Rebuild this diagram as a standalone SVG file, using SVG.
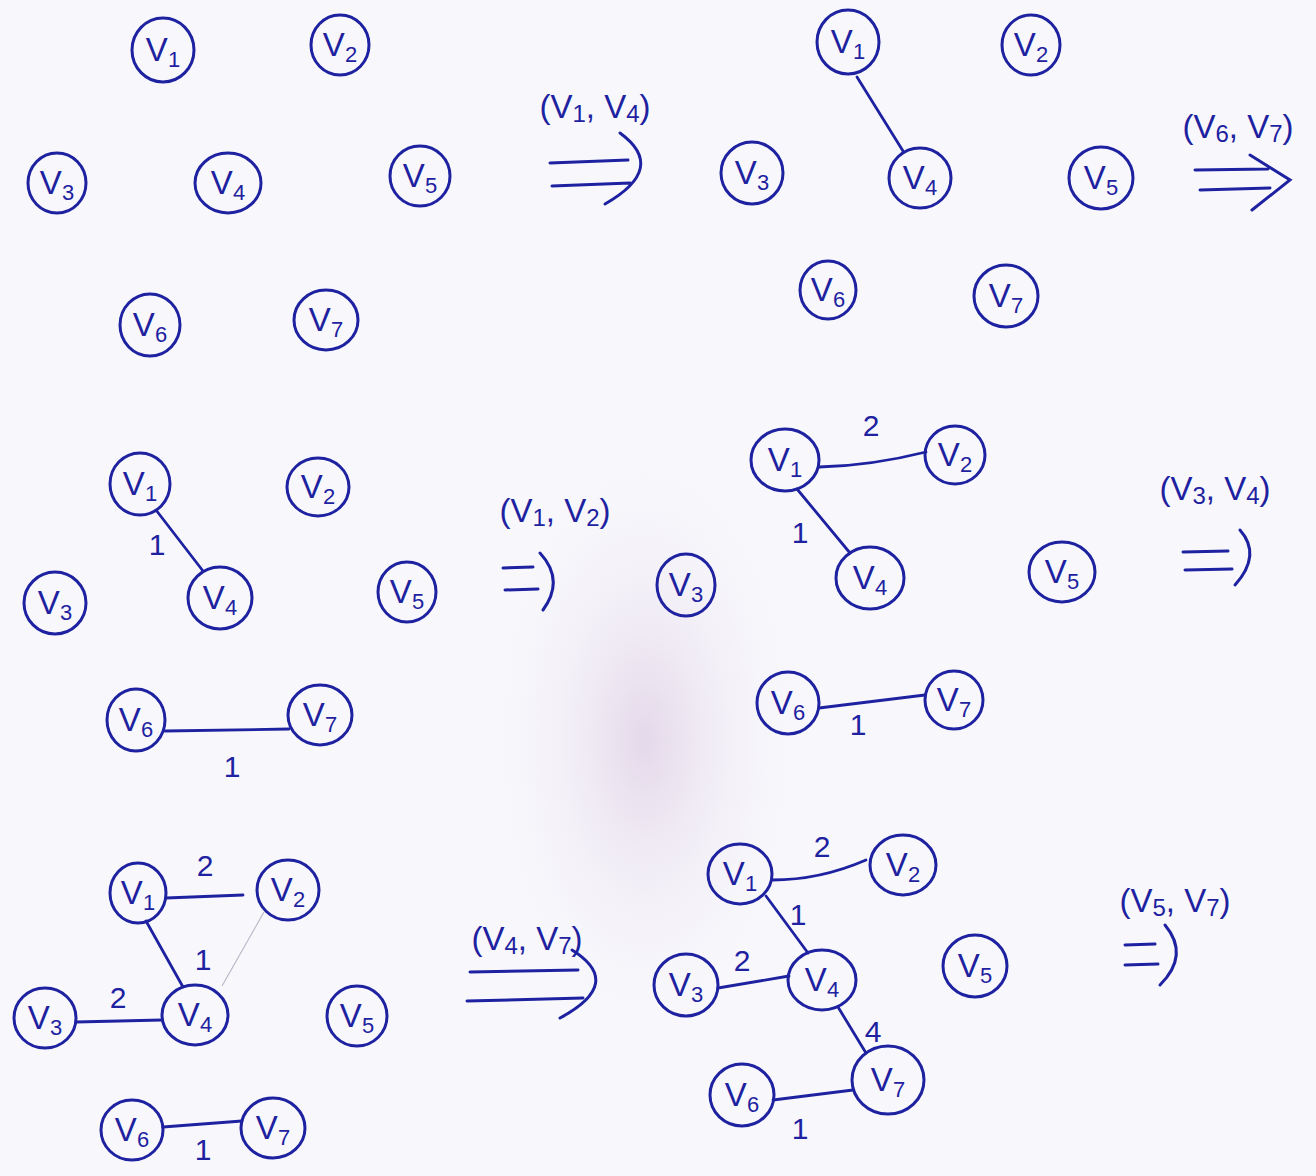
<svg xmlns="http://www.w3.org/2000/svg" width="1316" height="1176" viewBox="0 0 1316 1176">
<defs>
<radialGradient id="smudge" cx="0.5" cy="0.5" r="0.5">
<stop offset="0" stop-color="#e4d8ea"/>
<stop offset="1" stop-color="#f8f8fc" stop-opacity="0"/>
</radialGradient>
<style>
.n ellipse{fill:none;stroke:#1e22a0;stroke-width:3}
.n text,.lbl{font-family:"Liberation Sans","DejaVu Sans",sans-serif;fill:#1e22a0}
.n text{font-size:33px;text-anchor:middle}
.n tspan{font-size:22px}
.e{stroke:#1e22a0;stroke-width:2.8;fill:none;stroke-linecap:round}
.faint{stroke:#b8b8c8;stroke-width:1.2;fill:none}
.w{font-size:30px;text-anchor:middle}
.tl{font-size:33px;text-anchor:middle}
.ar{stroke:#1e22a0;stroke-width:3;fill:none;stroke-linecap:round}
</style>
</defs>
<rect width="1316" height="1176" fill="#f8f8fc"/>
<ellipse cx="645" cy="740" rx="170" ry="320" fill="url(#smudge)"/>

<!-- Panel 1 -->
<g id="p1-v1" class="n"><ellipse cx="163" cy="50" rx="31" ry="32"/><text x="163" y="61">V<tspan dy="6">1</tspan></text></g>
<g id="p1-v2" class="n"><ellipse cx="340" cy="45" rx="29" ry="30"/><text x="340" y="56">V<tspan dy="6">2</tspan></text></g>
<g id="p1-v3" class="n"><ellipse cx="57" cy="183" rx="29" ry="30"/><text x="57" y="194">V<tspan dy="6">3</tspan></text></g>
<g id="p1-v4" class="n"><ellipse cx="228" cy="183" rx="33" ry="30"/><text x="228" y="194">V<tspan dy="6">4</tspan></text></g>
<g id="p1-v5" class="n"><ellipse cx="420" cy="176" rx="30" ry="30"/><text x="420" y="187">V<tspan dy="6">5</tspan></text></g>
<g id="p1-v6" class="n"><ellipse cx="150" cy="325" rx="30" ry="31"/><text x="150" y="336">V<tspan dy="6">6</tspan></text></g>
<g id="p1-v7" class="n"><ellipse cx="326" cy="320" rx="32" ry="30"/><text x="326" y="331">V<tspan dy="6">7</tspan></text></g>

<!-- Panel 2 -->
<g id="p2-v1" class="n"><ellipse cx="848" cy="42" rx="31" ry="32"/><text x="848" y="53">V<tspan dy="6">1</tspan></text></g>
<g id="p2-v2" class="n"><ellipse cx="1031" cy="45" rx="29" ry="30"/><text x="1031" y="56">V<tspan dy="6">2</tspan></text></g>
<g id="p2-v3" class="n"><ellipse cx="752" cy="173" rx="31" ry="31"/><text x="752" y="184">V<tspan dy="6">3</tspan></text></g>
<g id="p2-v4" class="n"><ellipse cx="920" cy="178" rx="31" ry="30"/><text x="920" y="189">V<tspan dy="6">4</tspan></text></g>
<g id="p2-v5" class="n"><ellipse cx="1101" cy="178" rx="32" ry="31"/><text x="1101" y="189">V<tspan dy="6">5</tspan></text></g>
<g id="p2-v6" class="n"><ellipse cx="828" cy="290" rx="28" ry="29"/><text x="828" y="301">V<tspan dy="6">6</tspan></text></g>
<g id="p2-v7" class="n"><ellipse cx="1006" cy="296" rx="32" ry="31"/><text x="1006" y="307">V<tspan dy="6">7</tspan></text></g>

<!-- Panel 3 -->
<g id="p3-v1" class="n"><ellipse cx="140" cy="484" rx="30" ry="31"/><text x="140" y="495">V<tspan dy="6">1</tspan></text></g>
<g id="p3-v2" class="n"><ellipse cx="318" cy="487" rx="31" ry="29"/><text x="318" y="498">V<tspan dy="6">2</tspan></text></g>
<g id="p3-v3" class="n"><ellipse cx="55" cy="603" rx="31" ry="31"/><text x="55" y="614">V<tspan dy="6">3</tspan></text></g>
<g id="p3-v4" class="n"><ellipse cx="220" cy="598" rx="32" ry="31"/><text x="220" y="609">V<tspan dy="6">4</tspan></text></g>
<g id="p3-v5" class="n"><ellipse cx="407" cy="592" rx="29" ry="30"/><text x="407" y="603">V<tspan dy="6">5</tspan></text></g>
<g id="p3-v6" class="n"><ellipse cx="136" cy="720" rx="29" ry="31"/><text x="136" y="731">V<tspan dy="6">6</tspan></text></g>
<g id="p3-v7" class="n"><ellipse cx="320" cy="715" rx="32" ry="30"/><text x="320" y="726">V<tspan dy="6">7</tspan></text></g>

<!-- Panel 4 -->
<g id="p4-v1" class="n"><ellipse cx="785" cy="460" rx="34" ry="31"/><text x="785" y="471">V<tspan dy="6">1</tspan></text></g>
<g id="p4-v2" class="n"><ellipse cx="955" cy="455" rx="30" ry="29"/><text x="955" y="466">V<tspan dy="6">2</tspan></text></g>
<g id="p4-v3" class="n"><ellipse cx="686" cy="585" rx="29" ry="31"/><text x="686" y="596">V<tspan dy="6">3</tspan></text></g>
<g id="p4-v4" class="n"><ellipse cx="870" cy="578" rx="34" ry="31"/><text x="870" y="589">V<tspan dy="6">4</tspan></text></g>
<g id="p4-v5" class="n"><ellipse cx="1062" cy="572" rx="33" ry="30"/><text x="1062" y="583">V<tspan dy="6">5</tspan></text></g>
<g id="p4-v6" class="n"><ellipse cx="788" cy="703" rx="31" ry="31"/><text x="788" y="714">V<tspan dy="6">6</tspan></text></g>
<g id="p4-v7" class="n"><ellipse cx="954" cy="700" rx="29" ry="29"/><text x="954" y="711">V<tspan dy="6">7</tspan></text></g>

<!-- Panel 5 -->
<g id="p5-v1" class="n"><ellipse cx="138" cy="893" rx="28" ry="30"/><text x="138" y="904">V<tspan dy="6">1</tspan></text></g>
<g id="p5-v2" class="n"><ellipse cx="288" cy="890" rx="31" ry="30"/><text x="288" y="901">V<tspan dy="6">2</tspan></text></g>
<g id="p5-v3" class="n"><ellipse cx="45" cy="1018" rx="31" ry="30"/><text x="45" y="1029">V<tspan dy="6">3</tspan></text></g>
<g id="p5-v4" class="n"><ellipse cx="195" cy="1015" rx="33" ry="30"/><text x="195" y="1026">V<tspan dy="6">4</tspan></text></g>
<g id="p5-v5" class="n"><ellipse cx="357" cy="1016" rx="30" ry="30"/><text x="357" y="1027">V<tspan dy="6">5</tspan></text></g>
<g id="p5-v6" class="n"><ellipse cx="132" cy="1130" rx="31" ry="30"/><text x="132" y="1141">V<tspan dy="6">6</tspan></text></g>
<g id="p5-v7" class="n"><ellipse cx="273" cy="1128" rx="32" ry="30"/><text x="273" y="1139">V<tspan dy="6">7</tspan></text></g>

<!-- Panel 6 -->
<g id="p6-v1" class="n"><ellipse cx="740" cy="874" rx="32" ry="30"/><text x="740" y="885">V<tspan dy="6">1</tspan></text></g>
<g id="p6-v2" class="n"><ellipse cx="903" cy="865" rx="33" ry="30"/><text x="903" y="876">V<tspan dy="6">2</tspan></text></g>
<g id="p6-v3" class="n"><ellipse cx="686" cy="985" rx="32" ry="31"/><text x="686" y="996">V<tspan dy="6">3</tspan></text></g>
<g id="p6-v4" class="n"><ellipse cx="822" cy="980" rx="34" ry="30"/><text x="822" y="991">V<tspan dy="6">4</tspan></text></g>
<g id="p6-v5" class="n"><ellipse cx="975" cy="966" rx="32" ry="31"/><text x="975" y="977">V<tspan dy="6">5</tspan></text></g>
<g id="p6-v6" class="n"><ellipse cx="742" cy="1095" rx="32" ry="31"/><text x="742" y="1106">V<tspan dy="6">6</tspan></text></g>
<g id="p6-v7" class="n"><ellipse cx="888" cy="1080" rx="36" ry="34"/><text x="888" y="1091">V<tspan dy="6">7</tspan></text></g>

<g id="connectors">
<!-- panel 2 -->
<path class="e" d="M857 77 L903 151"/>
<!-- panel 3 -->
<path class="e" d="M156 510 L203 571"/>
<path class="e" d="M165 731 L289 729"/>
<!-- panel 4 -->
<path class="e" d="M819 467 Q870 466 926 452"/>
<path class="e" d="M797 489 L850 553"/>
<path class="e" d="M819 708 L925 695"/>
<!-- panel 5 -->
<path class="e" d="M166 898 L243 895"/>
<path class="e" d="M146 921 L183 987"/>
<path class="faint" d="M264 912 L222 986"/>
<path class="e" d="M76 1022 L162 1020"/>
<path class="e" d="M163 1127 L242 1121"/>
<!-- panel 6 -->
<path class="e" d="M772 880 Q820 880 866 860"/>
<path class="e" d="M766 896 L808 953"/>
<path class="e" d="M718 988 L789 976"/>
<path class="e" d="M838 1007 L866 1053"/>
<path class="e" d="M773 1100 L853 1090"/>
</g>

<g id="edge-labels" class="lbl">
<text class="w" x="157" y="555">1</text>
<text class="w" x="232" y="777">1</text>
<text class="w" x="871" y="436">2</text>
<text class="w" x="800" y="543">1</text>
<text class="w" x="858" y="735">1</text>
<text class="w" x="205" y="876">2</text>
<text class="w" x="203" y="970">1</text>
<text class="w" x="118" y="1008">2</text>
<text class="w" x="203" y="1160">1</text>
<text class="w" x="822" y="857">2</text>
<text class="w" x="798" y="925">1</text>
<text class="w" x="742" y="971">2</text>
<text class="w" x="873" y="1042">4</text>
<text class="w" x="800" y="1139">1</text>
</g>

<g id="transitions">
<text class="lbl tl" x="595" y="118">(V<tspan font-size="24" dy="4">1</tspan><tspan dy="-4">, V</tspan><tspan font-size="24" dy="4">4</tspan><tspan dy="-4">)</tspan></text>
<path class="ar" d="M550 163 L628 160 M552 186 L630 183 M620 133 Q668 168 605 204"/>

<text class="lbl tl" x="1238" y="138">(V<tspan font-size="24" dy="4">6</tspan><tspan dy="-4">, V</tspan><tspan font-size="24" dy="4">7</tspan><tspan dy="-4">)</tspan></text>
<path class="ar" d="M1195 170 L1268 169 M1200 190 L1270 188 M1250 155 L1290 180 L1252 210"/>

<text class="lbl tl" x="555" y="522">(V<tspan font-size="24" dy="4">1</tspan><tspan dy="-4">, V</tspan><tspan font-size="24" dy="4">2</tspan><tspan dy="-4">)</tspan></text>
<path class="ar" d="M503 568 L533 567 M505 590 L538 589 M540 553 Q565 580 543 610"/>

<text class="lbl tl" x="1215" y="500">(V<tspan font-size="24" dy="4">3</tspan><tspan dy="-4">, V</tspan><tspan font-size="24" dy="4">4</tspan><tspan dy="-4">)</tspan></text>
<path class="ar" d="M1183 552 L1228 551 M1185 570 L1232 569 M1240 530 Q1262 555 1235 585"/>

<text class="lbl tl" x="527" y="950">(V<tspan font-size="24" dy="4">4</tspan><tspan dy="-4">, V</tspan><tspan font-size="24" dy="4">7</tspan><tspan dy="-4">)</tspan></text>
<path class="ar" d="M470 972 L578 970 M467 1001 L583 998 M572 950 Q625 983 560 1018"/>

<text class="lbl tl" x="1175" y="912">(V<tspan font-size="24" dy="4">5</tspan><tspan dy="-4">, V</tspan><tspan font-size="24" dy="4">7</tspan><tspan dy="-4">)</tspan></text>
<path class="ar" d="M1125 945 L1155 944 M1125 965 L1158 964 M1165 925 Q1190 955 1160 985"/>
</g>
</svg>
